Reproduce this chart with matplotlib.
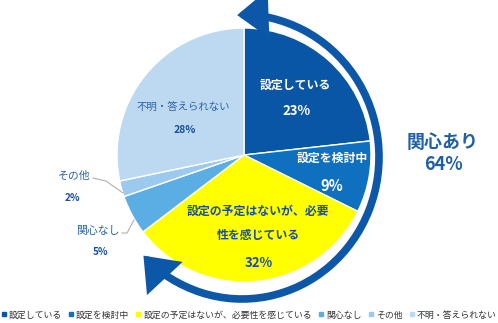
import matplotlib.pyplot as plt
from matplotlib.lines import Line2D
from matplotlib.patches import FancyArrowPatch
from matplotlib.path import Path
from matplotlib.transforms import Affine2D

plt.rcParams['font.family'] = ['Noto Sans CJK JP', 'DejaVu Sans']

categories = ['設定している', '設定を検討中', '設定の予定はないが、必要性を感じている',
              '関心なし', 'その他', '不明・答えられない']
shares = [23, 9, 32, 5, 2, 28]
colors = ['#0a56a6', '#0f70c0', '#ffff00', '#5aaee3', '#9ccaee', '#bdd9f1']
interest_label = '関心あり'
interest_share = sum(shares[:3])

W, H = 498, 323
CX, CY, R = 244, 155, 127  # pie centre and radius in pixels


def px(x, y):
    # pixel position (from top-left) -> data units of the pie axes
    return (x - CX) / R, (CY - y) / R


fig = plt.figure(figsize=(W / 100, H / 100), dpi=100)
ax = fig.add_axes([0, 0, 1, 1])

wedges, _ = ax.pie(shares, colors=colors, startangle=90, counterclock=False,
                   radius=1.0, wedgeprops=dict(edgecolor='white', linewidth=1.0))

# pie() sets its own limits, so fix the frame afterwards
ax.set_xlim(-CX / R, (W - CX) / R)
ax.set_ylim(-(H - CY) / R, CY / R)
ax.set_aspect('equal')
ax.axis('off')

dark = '#1a4f9c'
name_blue = '#2b63a8'

# labels inside the slices
inner = [
    ('設定している', (295, 85), 'white', 8.6, 'bold'),
    (f'{shares[0]}%', (297, 111), 'white', 9.5, 'bold'),
    ('設定を検討中', (332, 158), 'white', 8.6, 'bold'),
    (f'{shares[1]}%', (332, 186), 'white', 10.5, 'bold'),
    ('設定の予定はないが、必要', (258, 211), dark, 8.6, 'bold'),
    ('性を感じている', (258, 236), dark, 8.6, 'bold'),
    (f'{shares[2]}%', (259, 263), dark, 9.5, 'bold'),
    ('不明・答えられない', (183, 108), name_blue, 7.5, 'normal'),
    (f'{shares[5]}%', (185, 130), dark, 7.5, 'bold'),
    ('その他', (74, 176), name_blue, 7.8, 'normal'),
    (f'{shares[4]}%', (73, 198), dark, 7.2, 'bold'),
    ('関心なし', (98, 231), name_blue, 7.8, 'normal'),
    (f'{shares[3]}%', (100, 252), dark, 7.2, 'bold'),
]
for txt, (x, y), c, fs, fw in inner:
    ax.text(*px(x, y), txt, color=c, fontsize=fs, fontweight=fw,
            ha='center', va='center')

# leader lines for the small slices
for pts in ([(93, 178), (106, 181), (123, 193)],
            [(122, 233), (127, 233), (134, 220)]):
    xs, ys = zip(*[px(x, y) for x, y in pts])
    ax.plot(xs, ys, color='#b0b0b0', lw=0.8)

# double-headed arc around the "interested" slices
arc = Path.arc(-136, 92)
arc = arc.transformed(Affine2D().scale(137 / R, 142 / R).translate(*px(CX - 2, CY + 2)))
arrow = FancyArrowPatch(path=arc, arrowstyle='<|-|>,head_length=9,head_width=7',
                        color='#0c57a8', lw=5.5, mutation_scale=1.7,
                        shrinkA=0, shrinkB=0, joinstyle='miter')
ax.add_patch(arrow)

ax.text(*px(443, 142), interest_label, color='#1f5fa8', fontsize=13,
        fontweight='bold', ha='center', va='center')
ax.text(*px(443, 165), f'{interest_share}%', color='#1f5fa8', fontsize=13,
        fontweight='bold', ha='center', va='center')

handles = [Line2D([], [], marker='s', linestyle='none', markersize=3,
                  markerfacecolor=c, markeredgecolor=c) for c in colors]
fig.legend(handles, categories, loc='center', bbox_to_anchor=(0.5, 1 - 315 / H),
           ncol=6, frameon=False, fontsize=6.4, handlelength=0.5,
           handletextpad=0.3, columnspacing=0.8, labelcolor='#333333',
           borderaxespad=0, borderpad=0)

fig.savefig('out.png', dpi=100)
